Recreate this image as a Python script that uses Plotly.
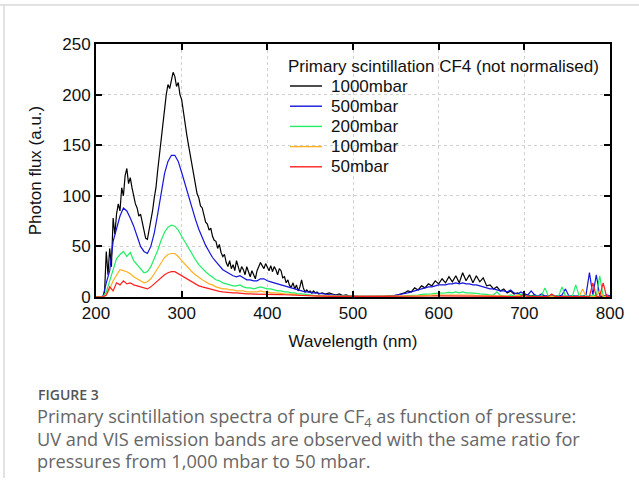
import plotly.graph_objects as go

# Wavelength grid (nm), 4 nm step from 200 to 800 (used by the lower-pressure series)
wavelength = list(range(200, 801, 4))
# Finer grid for the noisy 1000 mbar spectrum: 2 nm up to 460 nm, then 4 nm
wavelength_1000 = list(range(200, 461, 2)) + list(range(464, 801, 4))

flux_1000mbar = [
    0, 0, 0, 0, 0, 5, 45, 22, 48, 30,
    78, 62, 82, 92, 85, 108, 100, 120, 127, 112,
    118, 108, 100, 92, 88, 80, 82, 74, 66, 58,
    57, 66, 72, 85, 98, 108, 125, 140, 155, 172,
    185, 200, 210, 206, 214, 222, 218, 208, 212, 200,
    195, 182, 172, 160, 150, 140, 128, 118, 112, 102,
    98, 90, 88, 80, 74, 72, 66, 68, 60, 56,
    55, 48, 52, 44, 40, 42, 34, 30, 36, 28,
    32, 26, 36, 30, 24, 30, 27, 22, 30, 25,
    20, 26, 22, 18, 26, 30, 34, 31, 28, 33,
    30, 26, 31, 25, 30, 27, 22, 28, 26, 19,
    20, 14, 17, 11, 10, 14, 8, 12, 6, 10,
    17, 9, 5, 7, 5, 6, 4, 6, 4, 5,
    3,
    # 464 nm onward, 4 nm step
    4, 3, 4, 3, 2, 3, 1.5, 2, 1, 1,
    0.5, 0.5, 0.5, 0.3, 0.3, 0.3, 0.5, 0.3, 0.5, 1,
    1, 1.5, 2, 3, 4, 6, 5, 9, 7, 11,
    9, 13, 11, 16, 13, 18, 14, 20, 15, 21,
    14, 24, 16, 22, 14, 21, 15, 19, 11, 12,
    8, 10, 6, 8, 4, 6, 3, 4, 2, 3,
    2, 1, 2, 1, 1,
    1, 0.5, 1, 0.5, 0.5, 1, 0.5, 0.5, 0.5, 0.5,
    0.5, 0.5, 1, 0.5, 0.5, 1, 0.5, 0.5, 0.5, 0.5,
]

flux_500mbar = [
    0, 0, 0, 14, 26, 55, 68, 80, 88, 85,
    78, 70, 60, 50, 45, 43, 50, 63, 82, 104,
    122, 134, 140, 140, 134, 123, 111, 99, 88, 77,
    67, 59, 51, 45, 39, 35, 31, 27, 25, 23,
    21, 20, 21, 19, 17, 17, 16, 16, 18, 18,
    16, 15, 14, 13, 12, 11, 10, 9, 8, 7,
    6, 5, 5, 4, 4, 3.5, 3, 3, 2.5, 2,
    2, 1.5, 1.5, 1, 1, 1, 0.5, 0.5, 0.5, 0.5,
    0.5, 0.5, 0.5, 0.5, 0.5, 1, 1, 1.5, 2, 2.5,
    3, 4, 5, 6, 7, 8, 9, 10, 10, 11,
    12, 12, 12, 13, 13, 14, 13, 14, 13, 13,
    12, 12, 11, 10, 9, 8, 8, 7, 6, 6,
    5, 7, 4, 3, 5, 3, 2, 6, 2, 1,
    3, 1, 1, 1, 0.5, 1, 2, 8, 1, 1,
    1, 1, 1, 2, 24, 2, 22, 1, 1, 2,
    1,
]

flux_200mbar = [
    0, 0, 0, 5, 16, 26, 38, 42, 45, 40,
    44, 36, 32, 28, 24, 25, 30, 38, 46, 56,
    64, 69, 71, 70, 66, 60, 54, 48, 42, 37,
    32, 28, 25, 22, 19, 17, 16, 14, 13, 12,
    11, 11, 12, 10, 9, 9, 8, 9, 10, 9,
    8, 8, 7, 6, 6, 5, 5, 4, 4, 3,
    3, 2.5, 2, 2, 1.5, 1.5, 1, 1, 1, 0.8,
    0.5, 0.5, 0.5, 0.3, 0.3, 0.3, 0.3, 0.3, 0.3, 0.3,
    0.3, 0.3, 0.3, 0.3, 0.3, 0.5, 0.5, 0.5, 0.8, 1,
    1, 1.5, 1.5, 2, 2, 2.5, 2.5, 3, 3, 3.5,
    3.5, 4, 4, 4.5, 4, 5, 4, 5, 4, 4,
    4, 3.5, 3, 3, 2.5, 2, 2, 5, 1.5, 1,
    1, 2, 1, 1, 3, 1, 1, 1, 1, 1,
    1, 9, 1, 1, 1, 1, 10, 1, 1, 0.5,
    12, 1, 1, 1, 1, 2, 1, 21, 1, 1,
    0.5,
]

flux_100mbar = [
    0, 0, 0, 2, 8, 16, 22, 27, 26, 25,
    23, 20, 18, 16, 14, 15, 18, 23, 28, 34,
    39, 42, 43, 43, 40, 36, 32, 28, 25, 22,
    19, 17, 15, 13, 12, 10, 9, 8, 8, 7,
    7, 6, 6, 6, 5, 5, 5, 5, 6, 5,
    5, 4, 4, 4, 3.5, 3, 3, 2.5, 2.5, 2,
    2, 2, 1.5, 1.5, 1, 1, 1, 0.8, 0.5, 0.5,
    0.5, 0.3, 0.3, 0.3, 0.3, 0.3, 0.3, 0.3, 0.3, 0.3,
    0.3, 0.3, 0.3, 0.3, 0.3, 0.3, 0.5, 0.5, 0.5, 0.5,
    0.8, 1, 1, 1, 1.2, 1.5, 1.5, 1.5, 2, 2,
    2, 2, 2.5, 2, 2.5, 2, 2.5, 2, 2, 2,
    2, 1.5, 1.5, 1.5, 1, 1, 1, 1, 1, 0.8,
    0.8, 0.5, 0.5, 2, 0.5, 0.5, 0.5, 0.5, 0.5, 0.5,
    0.5, 0.5, 1, 0.5, 0.5, 0.5, 0.5, 0.5, 0.5, 0.5,
    0.5, 0.5, 8, 0.5, 0.5, 0.5, 0.5, 6, 0.5, 0.5,
    0.5,
]

flux_50mbar = [
    0, 0, 0, 2, 10, 6, 14, 12, 16, 13,
    14, 12, 11, 10, 9, 8, 10, 13, 16, 19,
    22, 24, 25, 25, 23, 21, 19, 17, 15, 13,
    11, 10, 9, 8, 7, 6, 5.5, 5, 4.5, 4,
    4, 4, 3.5, 3.5, 3, 3, 3, 3, 3, 3,
    3, 2.8, 2.6, 2.5, 2.4, 2.2, 2, 2, 1.8, 1.6,
    1.5, 1.3, 1.2, 1, 1, 0.8, 0.8, 0.6, 0.5, 0.5,
    0.5, 0.3, 0.3, 0.3, 0.3, 0.3, 0.3, 0.3, 0.3, 0.3,
    0.3, 0.3, 0.3, 0.3, 0.3, 0.3, 0.3, 0.3, 0.4, 0.5,
    0.5, 0.6, 0.7, 0.8, 0.8, 0.9, 1, 1, 1, 1.2,
    1.2, 1.2, 1.3, 1.3, 1.3, 1.3, 1.3, 1.2, 1.2, 1.2,
    1.1, 1, 1, 1, 0.9, 0.8, 0.8, 0.7, 0.6, 0.6,
    0.5, 0.5, 0.5, 0.5, 0.5, 2, 0.5, 0.5, 0.5, 0.5,
    0.5, 0.5, 0.5, 3, 0.5, 0.5, 0.5, 0.5, 0.5, 0.5,
    0.5, 0.5, 0.5, 0.5, 0.5, 14, 0.5, 0.5, 14, 0.5,
    0.5,
]

series_names = ["1000mbar", "500mbar", "200mbar", "100mbar", "50mbar"]
series_x = [wavelength_1000, wavelength, wavelength, wavelength, wavelength]
series_values = [flux_1000mbar, flux_500mbar, flux_200mbar, flux_100mbar, flux_50mbar]
series_colors = ["#000000", "#1414dc", "#22ee66", "#ffb020", "#ff2020"]

x_ticks = [200, 300, 400, 500, 600, 700, 800]
y_ticks = [0, 50, 100, 150, 200, 250]

legend_title = "Primary scintillation CF4 (not normalised)"
x_title = "Wavelength (nm)"
y_title = "Photon flux (a.u.)"
caption_label = "FIGURE 3"
caption_lines = [
    "Primary scintillation spectra of pure CF<sub>4</sub> as function of pressure:",
    "UV and VIS emission bands are observed with the same ratio for",
    "pressures from 1,000 mbar to 50 mbar.",
]

for xs, ys in zip(series_x, series_values):
    assert len(xs) == len(ys), (len(xs), len(ys))

fig = go.Figure()
for name, xs, vals, col in zip(series_names, series_x, series_values, series_colors):
    fig.add_trace(go.Scatter(
        x=xs, y=vals, mode="lines", name=name, showlegend=False,
        line=dict(color=col, width=1.2),
    ))

# plot-area geometry in pixels
L, R, T, B = 96, 610, 44, 297
W, H = 639, 485
def px(x):
    return (x - L) / (R - L)
def py(y):
    return (B - y) / (B - T)

axis_font = dict(family="Liberation Sans, Arial, sans-serif", size=17, color="#111111")

fig.update_layout(
    width=W, height=H,
    margin=dict(l=L, r=W - R, t=T, b=H - B),
    paper_bgcolor="white", plot_bgcolor="white",
    font=axis_font,
    showlegend=False,
    xaxis=dict(
        range=[200, 800], tickvals=x_ticks, ticktext=[str(v) for v in x_ticks],
        showline=True, linecolor="black", linewidth=2, mirror="ticks",
        ticks="inside", ticklen=6, tickwidth=2, tickcolor="black",
        showgrid=True, gridcolor="#d0d0d0", gridwidth=1, griddash="dot",
        zeroline=False,
        title=dict(text=x_title, standoff=13, font=dict(size=17)),
    ),
    yaxis=dict(
        range=[0, 250], tickvals=y_ticks, ticktext=[str(v) for v in y_ticks],
        showline=True, linecolor="black", linewidth=2, mirror="ticks",
        ticks="inside", ticklen=6, tickwidth=2, tickcolor="black",
        showgrid=True, gridcolor="#d0d0d0", gridwidth=1, griddash="dot",
        zeroline=False,
        title=dict(text=y_title, standoff=16, font=dict(size=17)),
    ),
)

# Legend box (white, hides the grid) with title, sample lines and labels
fig.add_shape(type="rect", xref="paper", yref="paper", layer="between",
              x0=px(280), x1=px(606), y0=py(50), y1=py(180),
              fillcolor="white", line=dict(width=0))
fig.add_annotation(text=legend_title, xref="paper", yref="paper",
                   x=px(286), y=py(66), xanchor="left", yanchor="middle",
                   showarrow=False, font=dict(size=17))
for i, (name, col) in enumerate(zip(series_names, series_colors)):
    yy = 86 + 20.2 * i
    fig.add_shape(type="line", xref="paper", yref="paper", layer="above",
                  x0=px(290), x1=px(322), y0=py(yy), y1=py(yy),
                  line=dict(color=col, width=1.4))
    fig.add_annotation(text=name, xref="paper", yref="paper",
                       x=px(329), y=py(yy), xanchor="left", yanchor="middle",
                       showarrow=False, font=dict(size=17))

# card border (top and left)
fig.add_shape(type="line", xref="paper", yref="paper",
              x0=px(0), x1=px(W), y0=py(5), y1=py(5),
              line=dict(color="#d9d9d9", width=1.5))
fig.add_shape(type="line", xref="paper", yref="paper",
              x0=px(4), x1=px(4), y0=py(5), y1=py(478),
              line=dict(color="#d9d9d9", width=1.5))

cap_font = "Open Sans, Lato, sans-serif"
fig.add_annotation(text=caption_label, xref="paper", yref="paper",
                   x=px(36), y=py(394), xanchor="left", yanchor="middle",
                   showarrow=False,
                   font=dict(family=cap_font, size=14, color="#555555", weight=600))
for i, line in enumerate(caption_lines):
    fig.add_annotation(text=line, xref="paper", yref="paper",
                       x=px(35), y=py(417 + 22 * i), xanchor="left", yanchor="middle",
                       showarrow=False,
                       font=dict(family=cap_font, size=18.2, color="#666666"))

fig.write_html("out.html")
